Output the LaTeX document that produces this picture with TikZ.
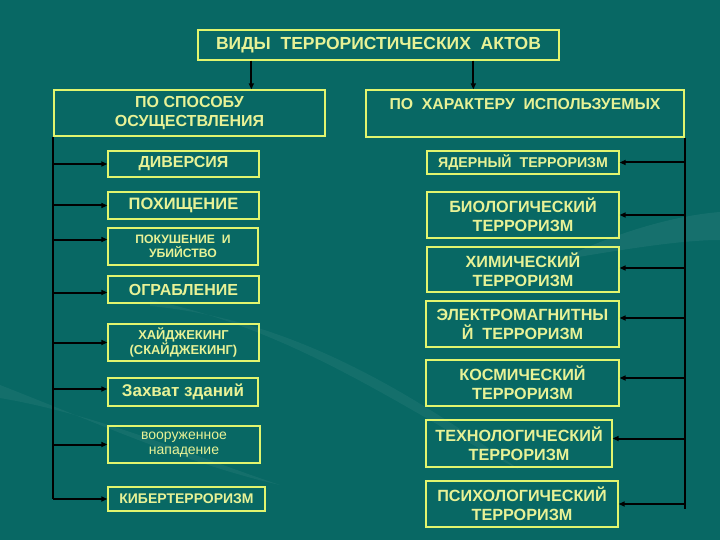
\documentclass[tikz,border=0pt]{standalone}
\usepackage{fontspec}
\setmainfont{Liberation Sans}
\usetikzlibrary{arrows.meta,calc}
\definecolor{bg}{RGB}{8,104,100}
\definecolor{txt}{RGB}{232,242,150}
\definecolor{bord}{RGB}{225,245,110}
\newcommand\myfs[2]{\fontsize{#1}{#2}\selectfont}
\begin{document}
\begin{tikzpicture}[x=1pt,y=-1pt,
 box/.style={draw=bord, line width=1.3pt, text=txt, align=center, inner sep=1pt, rectangle},
 conn/.style={draw=black, line width=2pt, -{Triangle[length=6pt,width=5pt]}},
 trunk/.style={draw=black, line width=2pt}]
\fill[bg] (0,0) rectangle (720,540);
\useasboundingbox (0,0) rectangle (720,540);
% faint background swooshes
\fill[white, opacity=0.05] (0,385) .. controls (90,420) and (190,465) .. (280,485) .. controls (190,455) and (100,415) .. (0,398) -- cycle;
\fill[white, opacity=0.05] (150,300) .. controls (300,330) and (420,420) .. (520,470) .. controls (420,400) and (300,320) .. (150,306) -- cycle;
\fill[white, opacity=0.06] (560,260) .. controls (620,230) and (680,215) .. (720,212) -- (720,240) .. controls (680,240) and (620,250) .. (560,260) -- cycle;

% title and categories
\node[box, minimum width=361, minimum height=30, font=\myfs{17.5}{19}\bfseries] (title) at (378.5,45) {ВИДЫ\ \ ТЕРРОРИСТИЧЕСКИХ\ \ АКТОВ};
\node[box, minimum width=271, minimum height=46, font=\myfs{16}{19}\bfseries] (lcat) at (189.5,113) {ПО СПОСОБУ\\ОСУЩЕСТВЛЕНИЯ};
\node[box, minimum width=318, minimum height=47, font=\myfs{15.8}{19}\bfseries] (rcat) at (525,113.5) {ПО\ \ ХАРАКТЕРУ\ \ ИСПОЛЬЗУЕМЫХ\\ \mbox{}};

\draw[conn] ([xshift=54pt]title.south west) -- ([xshift=54pt]title.south west |- lcat.north);
\draw[conn] ([xshift=276pt]title.south west) -- ([xshift=276pt]title.south west |- rcat.north);

% left column
\node[box, minimum width=151, minimum height=26, font=\myfs{16}{19}\bfseries] (div) at (183.5,164) {ДИВЕРСИЯ};
\node[box, minimum width=151, minimum height=27, font=\myfs{16.5}{19}\bfseries] (poh) at (183.5,205.5) {ПОХИЩЕНИЕ};
\node[box, minimum width=150, minimum height=37, font=\myfs{12.2}{14.5}\bfseries] (pok) at (183,246.5) {ПОКУШЕНИЕ\ \ И\\УБИЙСТВО};
\node[box, minimum width=151, minimum height=27, font=\myfs{16}{19}\bfseries] (ogr) at (183.5,289.5) {ОГРАБЛЕНИЕ};
\node[box, minimum width=151, minimum height=37, font=\myfs{12.9}{15}\bfseries] (hij) at (183.5,342.5) {ХАЙДЖЕКИНГ\\(СКАЙДЖЕКИНГ)};
\node[box, minimum width=150, minimum height=28, font=\myfs{17}{19}\bfseries] (zah) at (183,392) {Захват зданий};
\node[box, minimum width=152, minimum height=37, font=\myfs{14}{15}] (voo) at (184,444.5) {вооруженное\\нападение};
\node[box, minimum width=157, minimum height=24, font=\myfs{14}{17}\bfseries] (kib) at (186.5,499) {КИБЕРТЕРРОРИЗМ};

\coordinate (lt) at (lcat.south west);
\coordinate (lb) at ($(lcat.south west)+(0,362)$);
\draw[trunk] (lt) -- (lb);
\coordinate (pokin) at ($(pok.west)+(0,-7)$);
\coordinate (zahin) at ($(zah.west)+(0,-3)$);
\coordinate (ogrin) at ($(ogr.west)+(0,3)$);
\draw[conn] (lt |- div.west) -- (div.west);
\draw[conn] (lt |- poh.west) -- (poh.west);
\draw[conn] (lt |- pokin) -- (pokin);
\draw[conn] (lt |- ogrin) -- (ogrin);
\draw[conn] (lt |- hij.west) -- (hij.west);
\draw[conn] (lt |- zahin) -- (zahin);
\draw[conn] (lt |- voo.west) -- (voo.west);
\draw[conn] (lt |- kib.west) -- (kib.west);

% right column
\node[box, minimum width=192, minimum height=23, font=\myfs{14.2}{16}\bfseries] (yad) at (523,162.5) {ЯДЕРНЫЙ\ \ ТЕРРОРИЗМ};
\node[box, minimum width=192, minimum height=46, font=\myfs{16.2}{19}\bfseries] (bio) at (523,215) {БИОЛОГИЧЕСКИЙ\\ТЕРРОРИЗМ};
\node[box, minimum width=192, minimum height=45, font=\myfs{16.2}{19}\bfseries] (him) at (523,269.5) {ХИМИЧЕСКИЙ\\ТЕРРОРИЗМ};
\node[box, minimum width=193, minimum height=46, font=\myfs{16.2}{19}\bfseries] (ele) at (522.5,324) {ЭЛЕКТРОМАГНИТНЫ\\Й\ \ ТЕРРОРИЗМ};
\node[box, minimum width=193, minimum height=46, font=\myfs{16.2}{19}\bfseries] (kos) at (522.5,383) {КОСМИЧЕСКИЙ\\ТЕРРОРИЗМ};
\node[box, minimum width=186, minimum height=47, font=\myfs{16.2}{19}\bfseries] (teh) at (519,443.5) {ТЕХНОЛОГИЧЕСКИЙ\\ТЕРРОРИЗМ};
\node[box, minimum width=192, minimum height=46, font=\myfs{16.2}{19}\bfseries] (psi) at (522,504) {ПСИХОЛОГИЧЕСКИЙ\\ТЕРРОРИЗМ};

\coordinate (rt) at (rcat.south east);
\coordinate (rb) at ($(rcat.south east)+(-1,371)$);
\draw[trunk] (rt) -- (rt |- rb);
\coordinate (himin) at ($(him.east)+(0,-1.5)$);
\coordinate (elein) at ($(ele.east)+(0,-6)$);
\coordinate (kosin) at ($(kos.east)+(0,-5)$);
\coordinate (tehin) at ($(teh.east)+(0,-5)$);
\draw[conn] (rt |- yad.east) -- (yad.east);
\draw[conn] (rt |- bio.east) -- (bio.east);
\draw[conn] (rt |- himin) -- (himin);
\draw[conn] (rt |- elein) -- (elein);
\draw[conn] (rt |- kosin) -- (kosin);
\draw[conn] (rt |- tehin) -- (tehin);
\draw[conn] (rt |- psi.east) -- (psi.east);
\end{tikzpicture}
\end{document}
